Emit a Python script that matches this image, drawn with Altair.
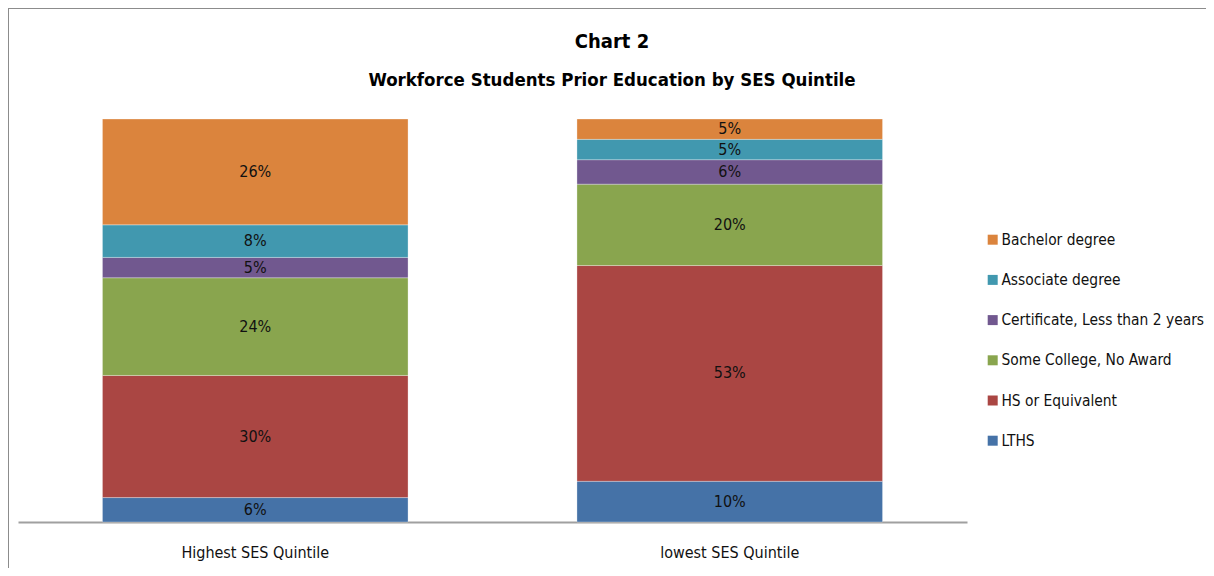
import altair as alt
import pandas as pd

categories = ["Highest SES Quintile", "lowest SES Quintile"]
levels = ["LTHS", "HS or Equivalent", "Some College, No Award",
          "Certificate, Less than 2 years", "Associate degree", "Bachelor degree"]
highest = [6, 30, 24, 5, 8, 26]
lowest = [10, 53, 20, 6, 5, 5]
legend_order = list(reversed(levels))
colors = ["#DB843D", "#4198AF", "#71588F", "#89A54E", "#AA4643", "#4572A7"]
title_lines = ["Chart 2", "Workforce Students Prior Education by SES Quintile"]

rows = []
for cat, vals in zip(categories, [highest, lowest]):
    for i, (lvl, v) in enumerate(zip(levels, vals)):
        rows.append({"cat": cat, "level": lvl, "idx": i, "value": v,
                     "label": f"{v}%"})
df = pd.DataFrame(rows)

FONT = "Liberation Sans Narrow, DejaVu Sans Condensed, Arial Narrow, sans-serif"

base = alt.Chart(df).transform_stack(
    stack="value", groupby=["cat"], as_=["y0", "y1"],
    offset="normalize", sort=[alt.SortField("idx", order="ascending")]
).transform_calculate(mid="(datum.y0 + datum.y1) / 2")

xenc = alt.X("cat:N", sort=categories, title=None,
             scale=alt.Scale(paddingInner=0.356, paddingOuter=0.178),
             axis=alt.Axis(labelAngle=0, ticks=False, labelPadding=22,
                           labelFontSize=16, labelFont=FONT, labelColor="#111",
                           domainColor="#a0a0a0", domainWidth=2, grid=False))

bars = base.mark_bar(stroke="white", strokeWidth=0.6, strokeOpacity=0.5).encode(
    x=xenc,
    y=alt.Y("y0:Q", axis=None, scale=alt.Scale(domain=[0, 1], nice=False)),
    y2="y1:Q",
    color=alt.Color("level:N", scale=alt.Scale(domain=legend_order, range=colors),
                    legend=alt.Legend(title=None, orient="none", legendX=967, legendY=113,
                                      symbolType="square", symbolSize=100,
                                      symbolStrokeWidth=0, labelFontSize=15.4,
                                      labelFont=FONT, labelColor="#111", labelLimit=0,
                                      labelOffset=1, rowPadding=23.2, padding=0)),
)

texts = base.mark_text(fontSize=16, font=FONT, color="#111", baseline="middle").encode(
    x=alt.X("cat:N", sort=categories),
    y=alt.Y("mid:Q"),
    text="label:N",
)

title_df = pd.DataFrame({"t": title_lines, "row": [0, 1]})
title1 = alt.Chart(title_df).transform_filter("datum.row == 0").mark_text(
    fontSize=20, font=FONT, fontWeight="bold", color="#000", baseline="middle"
).encode(x=alt.value(594), y=alt.value(-77), text="t:N")
title2 = alt.Chart(title_df).transform_filter("datum.row == 1").mark_text(
    fontSize=18.5, font=FONT, fontWeight="bold", color="#000", baseline="middle"
).encode(x=alt.value(594), y=alt.value(-39), text="t:N")

frame_top = alt.Chart(df).mark_rule(color="#8c8c8c", strokeWidth=1).encode(
    x=alt.value(-9.5), x2=alt.value(1200), y=alt.value(-110.5))
frame_left = alt.Chart(df).mark_rule(color="#8c8c8c", strokeWidth=1).encode(
    x=alt.value(-9.5), y=alt.value(-110.5), y2=alt.value(460))

chart = alt.layer(bars, texts, title1, title2, frame_top, frame_left).properties(
    width=949, height=403,
    autosize=alt.AutoSizeParams(type="none"),
    padding={"left": 10, "top": 111, "right": 239, "bottom": 46},
).configure_view(stroke=None)

chart.save("out.html", embed_options={"renderer": "svg", "actions": False})
